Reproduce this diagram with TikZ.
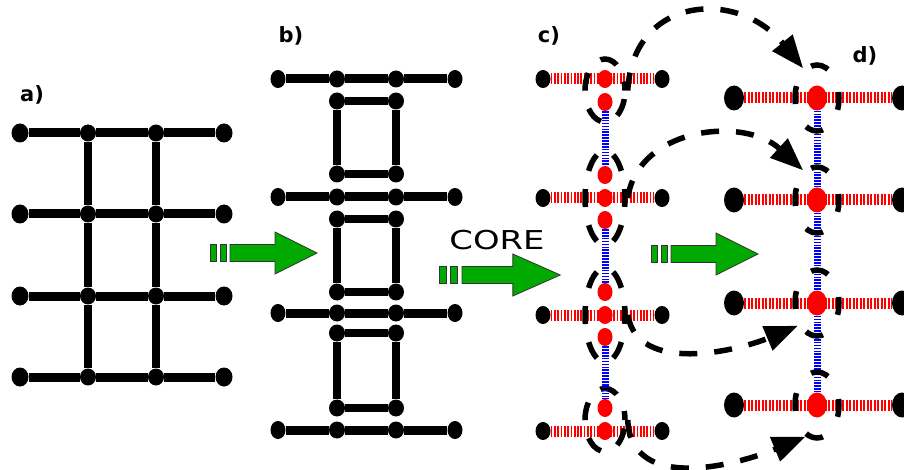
\documentclass[tikz,border=0pt]{standalone}
\usepackage{fontspec}
\setsansfont{DejaVu Sans}
\usepackage{tikz}
\usetikzlibrary{positioning,shapes.geometric,arrows.meta}

\definecolor{flowgreen}{RGB}{0,170,0}

\tikzset{
    flowfill/.style={fill=flowgreen, draw=black!80, line width=0.8pt},
    pics/flow/.style={code={
        \filldraw[flowfill] (-20,-8.5) rectangle (-14,8.5);
        \filldraw[flowfill] (-10,-8.5) rectangle (-4,8.5);
        \filldraw[flowfill] (0,-8.5) -- (45,-8.5) -- (45,-21) -- (87,0)
            -- (45,21) -- (45,8.5) -- (0,8.5) -- cycle;
    }}
}

\begin{document}
\begin{tikzpicture}[
    x=1pt, y=-1pt,
    dot/.style={ellipse, fill=black, inner sep=0pt, minimum width=17pt, minimum height=19pt},
    jdot/.style={ellipse, fill=black, inner sep=0pt, minimum width=16pt, minimum height=17pt},
    cdot/.style={ellipse, fill=black, inner sep=0pt, minimum width=15pt, minimum height=18pt},
    rdot/.style={ellipse, fill=red, inner sep=0pt, minimum width=15pt, minimum height=18pt},
    bigdot/.style={ellipse, fill=black, inner sep=0pt, minimum width=20pt, minimum height=25pt},
    rbig/.style={ellipse, fill=red, inner sep=0pt, minimum width=20pt, minimum height=25pt},
    bond/.style={line width=9pt},
    boxline/.style={line width=7.5pt},
    redstripe/.style={red, line width=11pt, dash pattern=on 1.7pt off 1.6pt},
    bluestripe/.style={blue, line width=7pt, dash pattern=on 1.6pt off 1.3pt},
    grp/.style={ellipse, draw, line width=5.5pt, inner sep=0pt, minimum width=40pt,
        dash pattern=on 18pt off 18.5pt, dash phase=9pt},
    ring/.style={ellipse, draw, line width=5.5pt, inner sep=0pt, minimum width=44pt,
        minimum height=66pt, dash pattern=on 18pt off 25.6pt, dash phase=12pt},
    hop/.style={line width=5.5pt, dash pattern=on 18pt off 17pt,
        -{Triangle[length=33pt,width=25pt]}},
    lbl/.style={font=\sffamily\bfseries\fontsize{21}{21}\selectfont, inner sep=0pt},
    core/.style={font=\sffamily\fontsize{26}{26}\selectfont, inner sep=0pt}
]

\useasboundingbox (0,0) rectangle (904,470);

% labels
\node[lbl] (la) at (32,95) {a)};
\node[lbl] (lb) at (291,36) {b)};
\node[lbl] (lc) at (549,36) {c)};
\node[lbl] (ld) at (865,56) {d)};
\node[core] (core) at (497,240) {\scalebox{1.3}[1]{CORE}};

% a) lattice
\node[dot] (a11) at (20,133) {}; \node[jdot] (a12) at (88,133) {};
\node[jdot] (a13) at (156,133) {}; \node[dot] (a14) at (224,133) {};
\node[dot] (a21) at (20,214) {}; \node[jdot] (a22) at (88,214) {};
\node[jdot] (a23) at (156,214) {}; \node[dot] (a24) at (224,214) {};
\node[dot] (a31) at (20,296) {}; \node[jdot] (a32) at (88,296) {};
\node[jdot] (a33) at (156,296) {}; \node[dot] (a34) at (224,296) {};
\node[dot] (a41) at (20,377) {}; \node[jdot] (a42) at (88,377) {};
\node[jdot] (a43) at (156,377) {}; \node[dot] (a44) at (224,377) {};

\draw[bond] (a11)--(a12)--(a13)--(a14);
\draw[bond] (a21)--(a22)--(a23)--(a24);
\draw[bond] (a31)--(a32)--(a33)--(a34);
\draw[bond] (a41)--(a42)--(a43)--(a44);
\draw[boxline] (a12)--(a22)--(a32)--(a42);
\draw[boxline] (a13)--(a23)--(a33)--(a43);

% b) rows and boxes
\node[cdot] (b11) at (278,79) {}; \node[jdot] (b12) at (337,79) {};
\node[jdot] (b13) at (396,79) {}; \node[cdot] (b14) at (455,79) {};
\node[cdot] (b21) at (278,197) {}; \node[jdot] (b22) at (337,197) {};
\node[jdot] (b23) at (396,197) {}; \node[cdot] (b24) at (455,197) {};
\node[cdot] (b31) at (278,313) {}; \node[jdot] (b32) at (337,313) {};
\node[jdot] (b33) at (396,313) {}; \node[cdot] (b34) at (455,313) {};
\node[cdot] (b41) at (278,430) {}; \node[jdot] (b42) at (337,430) {};
\node[jdot] (b43) at (396,430) {}; \node[cdot] (b44) at (455,430) {};

\node[jdot] (s1a) at (337,101) {}; \node[jdot] (s1b) at (396,101) {};
\node[jdot] (s1c) at (396,174) {}; \node[jdot] (s1d) at (337,174) {};
\node[jdot] (s2a) at (337,219) {}; \node[jdot] (s2b) at (396,219) {};
\node[jdot] (s2c) at (396,292) {}; \node[jdot] (s2d) at (337,292) {};
\node[jdot] (s3a) at (337,333) {}; \node[jdot] (s3b) at (396,333) {};
\node[jdot] (s3c) at (396,408) {}; \node[jdot] (s3d) at (337,408) {};

\draw[bond] (b11)--(b12)--(b13)--(b14);
\draw[bond] (b21)--(b22)--(b23)--(b24);
\draw[bond] (b31)--(b32)--(b33)--(b34);
\draw[bond] (b41)--(b42)--(b43)--(b44);
\draw[boxline] (s1a)--(s1b)--(s1c)--(s1d)--(s1a);
\draw[boxline] (s2a)--(s2b)--(s2c)--(s2d)--(s2a);
\draw[boxline] (s3a)--(s3b)--(s3c)--(s3d)--(s3a);

% green arrows
\pic at (230,253) {flow};
\pic[xscale=1.13] at (462,275) {flow};
\pic at (671,254) {flow};

% c) split vertices
\node[cdot] (cl1) at (543,79) {}; \node[cdot] (cr1) at (662,79) {};
\node[cdot] (cl2) at (543,198) {}; \node[cdot] (cr2) at (662,198) {};
\node[cdot] (cl3) at (543,315) {}; \node[cdot] (cr3) at (662,315) {};
\node[cdot] (cl4) at (543,431) {}; \node[cdot] (cr4) at (662,431) {};

\node[rdot] (c1) at (605,79) {}; \node[rdot] (c1s) at (605,102) {};
\node[rdot] (c2n) at (605,175) {}; \node[rdot] (c2) at (605,198) {};
\node[rdot] (c2s) at (605,220) {};
\node[rdot] (c3n) at (605,292) {}; \node[rdot] (c3) at (605,315) {};
\node[rdot] (c3s) at (605,337) {};
\node[rdot] (c4n) at (605,408) {}; \node[rdot] (c4) at (605,431) {};

\draw[redstripe] (cl1)--(cr1);
\draw[redstripe] (cl2)--(cr2);
\draw[redstripe] (cl3)--(cr3);
\draw[redstripe] (cl4)--(cr4);

\node[grp, minimum height=63pt] (g1) at (605,90.5) {};
\node[grp, minimum height=94pt] (g2) at (605,198) {};
\node[grp, minimum height=94pt] (g3) at (605,315) {};
\node[grp, minimum height=63pt] (g4) at (605,420) {};

\draw[bluestripe] (c1s)--(c2n);
\draw[bluestripe] (c2s)--(c3n);
\draw[bluestripe] (c3s)--(c4n);

% d) merged chain
\node[bigdot] (dl1) at (734,98) {}; \node[bigdot] (dr1) at (902,98) {};
\node[bigdot] (dl2) at (734,200) {}; \node[bigdot] (dr2) at (902,200) {};
\node[bigdot] (dl3) at (734,303) {}; \node[bigdot] (dr3) at (902,303) {};
\node[bigdot] (dl4) at (734,405) {}; \node[bigdot] (dr4) at (902,405) {};

\node[rbig] (d1) at (817,98) {};
\node[rbig] (d2) at (817,200) {};
\node[rbig] (d3) at (817,303) {};
\node[rbig] (d4) at (817,405) {};

\draw[redstripe, dash pattern=on 1.8pt off 1.7pt] (dl1)--(dr1);
\draw[redstripe, dash pattern=on 1.8pt off 1.7pt] (dl2)--(dr2);
\draw[redstripe, dash pattern=on 1.8pt off 1.7pt] (dl3)--(dr3);
\draw[redstripe, dash pattern=on 1.8pt off 1.7pt] (dl4)--(dr4);
\draw[bluestripe] (d1)--(d2)--(d3)--(d4);

\node[ring] (e1) at (817,98) {};
\node[ring] (e2) at (817,200) {};
\node[ring] (e3) at (817,303) {};
\node[ring] (e4) at (817,405) {};

% dashed mapping arrows
\draw[hop] (g1.east) .. controls +(5,-95) and +(-65,-80) .. (e1.115);
\draw[hop] (g2.east) .. controls +(10,-70) and +(-60,-55) .. (e2.115);
\draw[hop] (g3.east) .. controls +(10,60) and +(-60,25) .. (e3.230);
\draw[hop] (g4.east) .. controls +(3,75) and +(-65,27) .. (e4.250);

\end{tikzpicture}
\end{document}
